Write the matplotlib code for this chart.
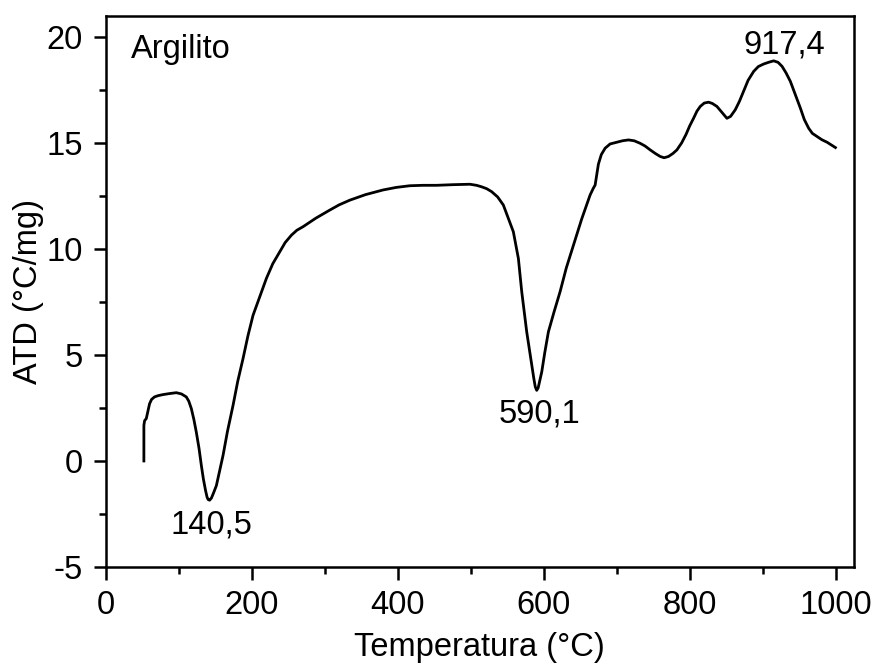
import matplotlib
matplotlib.use("Agg")
import matplotlib.pyplot as plt
from matplotlib.ticker import MultipleLocator

plt.rcParams['font.family'] = ['Liberation Sans', 'DejaVu Sans']
plt.rcParams['axes.unicode_minus'] = False

temperature = [52.5, 52.5, 53.5, 55.8, 58, 60.3, 63, 67, 72, 78.6, 88, 96.9, 104, 110.6, 114, 117.5,
               121, 124.3, 128, 131.2, 134, 137, 139, 140.5, 142.5, 145, 148,
               151.8, 156, 160.9, 167, 174.6, 181, 188.3, 195, 202, 211, 220.3, 229, 238.6, 246,
               254.6, 262, 270.6, 288, 307, 320, 334.6, 356, 380,
               398, 416.8, 435, 453.4, 476, 499, 508, 515, 522, 528.8, 537, 544.8, 551.6, 558.5,
               565.4, 570, 576.8, 583.7, 586.5, 588.5, 590.5, 592.5, 594.5, 597.4, 601.5, 606.5,
               614, 622.5, 631, 640.8, 652, 663.6, 668, 670.5, 672.7, 675, 679, 684.2, 691, 700.2,
               708, 716.2, 724, 732.2, 739, 745.9, 753, 759.6, 765, 771, 777, 782.5, 789, 795, 800,
               805.3, 810, 814.5, 820, 825.9, 831, 837.3, 844, 851, 856, 862.4, 868, 873.8, 880,
               887.6, 894, 901.3, 908, 915, 921, 926.5, 932, 937.9, 945, 951.6, 957, 963, 968,
               974.5, 981, 988.2, 994, 999.6]
atd = [0.0, 1.68, 1.9, 2.0, 2.35, 2.70, 2.9, 3.02, 3.08, 3.13, 3.18, 3.22, 3.16, 3.02, 2.82, 2.47,
       1.95, 1.36, 0.6, -0.21, -0.85, -1.4, -1.7, -1.82, -1.85, -1.75, -1.5,
       -1.16, -0.5, 0.26, 1.4, 2.62, 3.75, 4.83, 5.9, 6.87, 7.73, 8.61, 9.3, 9.87, 10.3,
       10.65, 10.88, 11.05, 11.45, 11.83, 12.08, 12.3, 12.56, 12.78,
       12.9, 12.98, 13.0, 13.0, 13.03, 13.05, 13.0, 12.93, 12.84, 12.7, 12.45, 12.07, 11.44, 10.81,
       9.55, 7.98, 6.09, 4.51, 3.9, 3.5, 3.33, 3.45, 3.75, 4.2, 5.1, 6.09,
       7.0, 7.98, 9.1, 10.18, 11.4, 12.54, 12.86, 13.01, 13.5, 14.0, 14.45, 14.75, 14.95, 15.03,
       15.1, 15.14, 15.1, 14.98, 14.85, 14.67, 14.5, 14.36, 14.3, 14.36, 14.5, 14.67, 15.0, 15.4, 15.8,
       16.16, 16.5, 16.72, 16.88, 16.92, 16.86, 16.72, 16.45, 16.16, 16.25, 16.56, 16.95, 17.43, 17.95,
       18.37, 18.6, 18.72, 18.8, 18.87, 18.8, 18.61, 18.3, 17.9, 17.25, 16.64, 16.1, 15.69, 15.45,
       15.3, 15.15, 15.03, 14.9, 14.78]

peak_labels = ["140,5", "590,1", "917,4"]
peak_label_x = [145, 595, 930]
peak_label_y = [-3.0, 2.2, 19.6]

x_ticks = [0, 200, 400, 600, 800, 1000]
y_ticks = [-5, 0, 5, 10, 15, 20]

FS = 23.5

fig = plt.figure(figsize=(8.73, 6.64), dpi=100)
ax = fig.add_axes([0.1209, 0.1461, 0.9782 - 0.1209, 0.9764 - 0.1461])
ax.plot(temperature, atd, color='black', lw=2)

ax.set_xlim(0, 1025)
ax.set_ylim(-5, 21)
ax.set_xticks(x_ticks)
ax.set_yticks(y_ticks)
ax.xaxis.set_minor_locator(MultipleLocator(100))
ax.yaxis.set_minor_locator(MultipleLocator(2.5))
ax.tick_params(which='both', direction='out', top=False, right=False, labelsize=FS, width=1.8)
ax.tick_params(which='major', length=9, pad=7.5)
ax.tick_params(which='minor', length=5)
for s in ax.spines.values():
    s.set_linewidth(1.8)

ax.set_xlabel("Temperatura (°C)", fontsize=FS, labelpad=8)
ax.set_ylabel("ATD (°C/mg)", fontsize=FS, labelpad=1.5)

for t, xv, yv in zip(peak_labels, peak_label_x, peak_label_y):
    ax.text(xv, yv, t, fontsize=FS, ha='center', va='center')
ax.text(35, 19.4, "Argilito", fontsize=FS, ha='left', va='center')

fig.savefig("out.png", dpi=100)
